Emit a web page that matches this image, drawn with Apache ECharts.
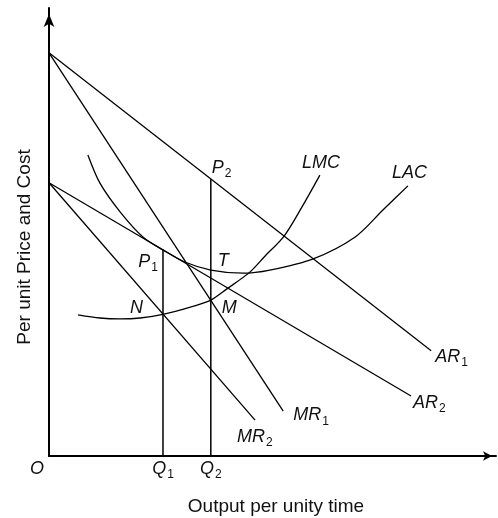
<!DOCTYPE html>
<html><head><meta charset="utf-8">
<script src="https://cdn.jsdelivr.net/npm/echarts@6/dist/echarts.min.js"></script>
<style>html,body{margin:0;padding:0;background:#fff}#c{width:498px;height:518px}</style>
</head><body><div id="c"></div>
<script>
// ---- data (output on x, per-unit price/cost on y) ----
const AR1 = [[0, 90], [85.5, 23.5]];
const MR1 = [[0, 90], [52.4, 10]];
const AR2 = [[0, 61], [81, 13.4]];
const MR2 = [[0, 61], [46.1, 8]];
const LMC = [[6.5, 31.5], [11.4, 30.8], [15.9, 30.6], [20.4, 30.8], [25.5, 31.6], [32.2, 33.4], [36.2, 34.8], [39.8, 37.3], [45, 41.1], [48.3, 44.6], [52.6, 49.1], [56.6, 55.6], [60.6, 62.7]];
const LAC = [[8.7, 67.2], [11.4, 60.9], [15.9, 54.5], [21, 48.9], [25.5, 46], [30.4, 43.3], [36.2, 41.5], [43.4, 40.8], [49.4, 41.5], [59.1, 44], [68.5, 48.9], [74.7, 54.9], [80.3, 60.3]];
const Q1 = 25.5, Q2 = 36.2;
const Q1Line = [[Q1, 0], [Q1, 46]];
const Q2Line = [[Q2, 0], [Q2, 61.8]];
const pointNames = ['P1', 'P2', 'T', 'N', 'M'];
const pointValues = [[Q1, 46], [Q2, 61.8], [Q2, 41.5], [Q1, 31.6], [Q2, 34.8]];
const axisNames = ['O', 'Q1', 'Q2'];
const axisValues = [0, Q1, Q2];

const FONT = 'Liberation Sans, Arial, sans-serif';
const INK = '#111';
const rich = {
  i: { fontFamily: FONT, fontStyle: 'italic', fontSize: 18, color: INK, textBorderWidth: 0 },
  n: { fontFamily: FONT, fontSize: 18, color: INK, textBorderWidth: 0 },
  s: { fontFamily: FONT, fontSize: 12, color: INK, textBorderWidth: 0, padding: [12, 0, 0, 1] }
};
function fmt(name, italic) {
  const m = name.match(/^([A-Za-z]+?)(\d*)$/);
  const base = m[1], sub = m[2];
  const k = italic ? 'i' : 'n';
  return '{' + k + '|' + base + '}' + (sub ? '{s|' + sub + '}' : '');
}
const lineStyle = { color: '#000', width: 1.3 };
function lineSeries(name, data, smooth, labelOffset, align, noLine) {
  return {
    type: 'line', name: name, data: data, smooth: smooth, symbol: 'none',
    lineStyle: noLine ? { width: 0, opacity: 0 } : lineStyle, silent: true, animation: false,
    endLabel: { show: true, formatter: () => fmt(name, true), rich: rich, color: INK, textBorderWidth: 0, offset: labelOffset, align: align || 'left', verticalAlign: 'middle', distance: 0 }
  };
}

const pointOffsets = { P1: [-5, 12], P2: [1, -11], T: [7, -9], N: [-20, -6], M: [11, 8] };
const pointAlign = { P1: 'right', P2: 'left', T: 'left', N: 'right', M: 'left' };
const axisOffsets = { O: [-12, 13], Q1: [0, 13], Q2: [0, 13] };

const labelSeries = [];
pointNames.forEach((n, i) => {
  labelSeries.push(lineSeries(n, [pointValues[i], pointValues[i]], false, pointOffsets[n], pointAlign[n], true));
});
axisNames.forEach((n, i) => {
  const p = [axisValues[i], 0];
  labelSeries.push(lineSeries(n, [p, p], false, axisOffsets[n], 'center', true));
});

const chart = echarts.init(document.getElementById('c'), null, { renderer: 'canvas' });
chart.setOption({
  animation: false,
  backgroundColor: '#fff',
  grid: { left: 49, top: 8, width: 447, height: 448 },
  xAxis: {
    type: 'value', min: 0, max: 100,
    axisLine: { show: true, symbol: ['none', 'arrow'], symbolSize: [7, 9], symbolOffset: [0, -4], lineStyle: { color: '#000', width: 2 } },
    axisTick: { show: false }, axisLabel: { show: false }, splitLine: { show: false }
  },
  yAxis: {
    type: 'value', min: 0, max: 100,
    axisLine: { show: true, symbol: ['none', 'arrow'], symbolSize: [8, 13], symbolOffset: [0, -6], lineStyle: { color: '#000', width: 2 } },
    axisTick: { show: false }, axisLabel: { show: false }, splitLine: { show: false }
  },
  graphic: [
    { type: 'text', x: 25, y: 247, rotation: Math.PI / 2, style: { text: 'Per unit Price and Cost', font: '19px ' + FONT, fill: INK, align: 'center', verticalAlign: 'middle' } },
    { type: 'text', x: 276, y: 507, style: { text: 'Output per unity time', font: '19px ' + FONT, fill: INK, align: 'center', verticalAlign: 'middle' } }
  ],
  series: [
    lineSeries('AR1', AR1, false, [4, 6]),
    lineSeries('MR1', MR1, false, [10, 4]),
    lineSeries('AR2', AR2, false, [2, 7]),
    lineSeries('MR2', MR2, false, [-18, 17]),
    lineSeries('LMC', LMC, 0.3, [-18, -12]),
    lineSeries('LAC', LAC, 0.3, [-16, -13]),
    { type: 'line', data: Q1Line, symbol: 'none', lineStyle: { color: '#000', width: 1.5 }, silent: true },
    { type: 'line', data: Q2Line, symbol: 'none', lineStyle: { color: '#000', width: 1.5 }, silent: true }
  ].concat(labelSeries)
});
</script></body></html>
